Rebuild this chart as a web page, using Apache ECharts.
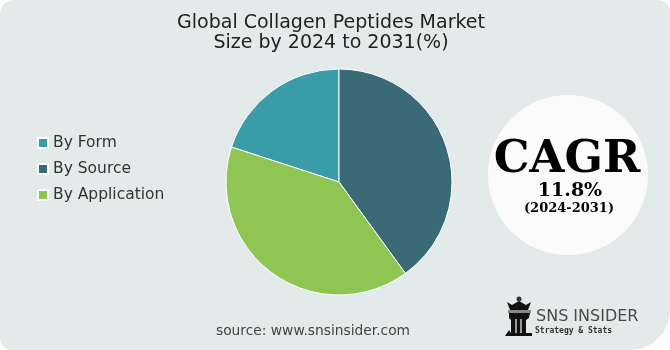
<!DOCTYPE html>
<html><head><meta charset="utf-8">
<script src="https://cdn.jsdelivr.net/npm/echarts@6/dist/echarts.min.js"></script>
<style>html,body{margin:0;padding:0;background:#fff}#c{width:670px;height:350px}</style>
</head><body><div id="c"></div>
<script>
const titleLines = ['Global Collagen Peptides Market', 'Size by 2024 to 2031(%)'];
const categories = ['By Form', 'By Source', 'By Application'];
const values = [20, 40, 40];
const colors = ['#3a9ba9', '#3b6a77', '#8fc552'];
const cagrLabel = 'CAGR';
const cagrValue = '11.8%';
const cagrPeriod = '(2024-2031)';
const sourceText = 'source: www.snsinsider.com';
const brandName = 'SNS INSIDER';
const brandTag = 'Strategy & Stats';

const chart = echarts.init(document.getElementById('c'));
const FONT = 'DejaVu Sans';
chart.setOption({
  animation: false,
  backgroundColor: '#ffffff',
  title: {
    text: titleLines.join('\n'), left: 326, top: 8, textAlign: 'center',
    textStyle: { fontFamily: FONT, fontSize: 19, fontWeight: 'normal', color: '#222', lineHeight: 20 }
  },
  legend: {
    orient: 'vertical', left: 32, top: 130, itemWidth: 10, itemHeight: 10, itemGap: 10,
    icon: 'rect', data: categories,
    textStyle: { fontFamily: FONT, fontSize: 15.5, color: '#333' }
  },
  graphic: [
    { type: 'rect', z: -10, shape: { x: 0, y: 0, width: 670, height: 350, r: [14, 12, 40, 12] }, style: { fill: '#e3ebea' } },
    { type: 'circle', shape: { cx: 568, cy: 175, r: 80 }, style: { fill: '#fbfbfb' } },
    { type: 'text', style: { text: cagrLabel, x: 567, y: 160, align: 'center', verticalAlign: 'middle', font: 'bold 45px "DejaVu Serif"', fill: '#000' } },
    { type: 'text', style: { text: cagrValue, x: 570, y: 191, align: 'center', verticalAlign: 'middle', font: 'bold 19px "DejaVu Serif"', fill: '#000' } },
    { type: 'text', style: { text: cagrPeriod, x: 569, y: 209, align: 'center', verticalAlign: 'middle', font: 'bold 13px "DejaVu Serif"', fill: '#000' } },
    { type: 'text', style: { text: sourceText, x: 313, y: 331, align: 'center', verticalAlign: 'middle', font: '13.8px "DejaVu Sans"', fill: '#444' } },
    { type: 'text', style: { text: brandName, x: 536, y: 317, align: 'left', verticalAlign: 'middle', font: '16px "DejaVu Sans"', fill: '#4a4a4a' } },
    { type: 'text', style: { text: brandTag, x: 535, y: 331, align: 'left', verticalAlign: 'middle', font: 'bold 8px "DejaVu Sans Mono"', fill: '#333' } },
    { type: 'circle', shape: { cx: 519, cy: 299, r: 2.5 }, style: { fill: '#333' } },
    { type: 'polygon', shape: { points: [[507,302],[512,305],[519,301],[526,305],[531,302],[528,310],[510,310]] }, style: { fill: '#111' } },
    { type: 'rect', shape: { x: 508, y: 310, width: 23, height: 3 }, style: { fill: '#888' } },
    { type: 'polygon', shape: { points: [[509,313],[530,313],[529,318],[526,320],[526,333],[511,333],[511,320],[509,318]] }, style: { fill: '#111' } },
    { type: 'rect', shape: { x: 515, y: 319, width: 2, height: 14 }, style: { fill: '#999' } },
    { type: 'rect', shape: { x: 520, y: 319, width: 2, height: 14 }, style: { fill: '#999' } },
    { type: 'polygon', shape: { points: [[505,336],[509,330],[511,333],[532,333],[532,336]] }, style: { fill: '#111' } }
  ],
  series: [{
    type: 'pie', center: [339, 182], radius: 113, startAngle: 162, clockwise: true,
    label: { show: false }, labelLine: { show: false }, silent: true,
    itemStyle: { borderColor: '#fff', borderWidth: 1 },
    data: categories.map((n, i) => ({ name: n, value: values[i], itemStyle: { color: colors[i] } }))
  }]
});
</script></body></html>
